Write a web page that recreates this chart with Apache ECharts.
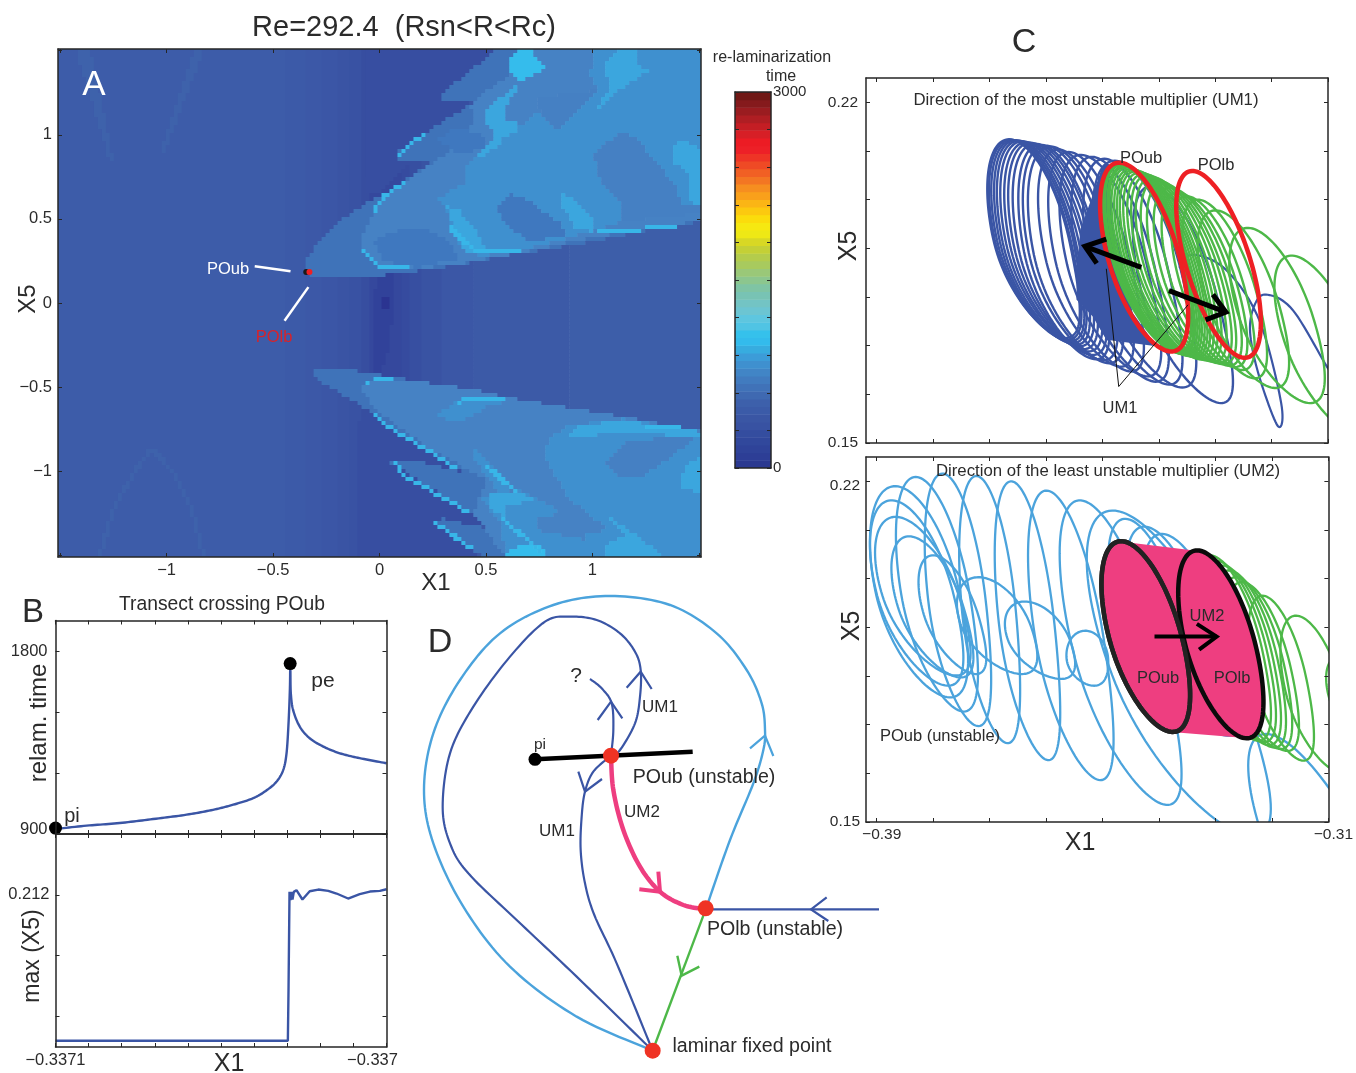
<!DOCTYPE html>
<html><head><meta charset="utf-8"><title>Re=292.4</title>
<style>html,body{margin:0;padding:0;background:#fff}#c{width:1356px;height:1073px}</style>
<script src="https://cdn.jsdelivr.net/npm/echarts@6/dist/echarts.min.js"></script></head>
<body><div id="c"></div>
<script>
// ---------- Panel A: re-laminarization time map (regions read in X1, X5) ----------
const bandEdges=[-1.52,-0.45,-0.35,-0.28,-0.2,-0.14,-0.09,-0.05,0.1,0.14,0.2,0.3,0.45,0.9,1.52];
const bandColors=['#3d5ca9','#3c5aa8','#3c58a7','#3b56a6','#3a54a4','#3952a3','#374ea0','#35489d','#364b9f','#374fa1','#3953a3','#3b57a6','#3c5aa7','#3d5ea9'];
const faintStreaks=[[[-1.43,1.52],[-1.36,1.52],[-1.25,0.856],[-1.27,0.856]],[[-0.87,1.52],[-0.82,1.52],[-1.01,0.89],[-1.03,0.89]]];
const faintArcs=[[[-1.32,-1.52],[-1.24,-1.2],[-1.15,-1.0],[-1.07,-0.87],[-0.97,-1.0],[-0.89,-1.2],[-0.82,-1.52]]];
const darkFlanks=[[[0,-0.6],[0.5,-1.1],[0.45,-1.52],[-0.1,-1.52],[-0.1,-0.7]],[[0,0.65],[0.43,1.2],[0.55,1.52],[-0.06,1.52],[-0.06,0.65]]];
const spine=[[[-0.01,0.17],[0.07,0.17],[0.06,-0.1],[0.03,-0.35],[-0.02,-0.45],[-0.02,-0.2],[-0.03,-0.05]]];
const spineCore=[[[0.01,0.03],[0.05,0.03],[0.045,-0.04],[0.015,-0.04]]];
const lobeBase=[
 [[-0.354,0.218],[-0.326,0.297],[-0.279,0.376],[-0.192,0.485],[-0.052,0.604],[0.003,0.634],[0.097,0.713],[0.23,0.822],[0.246,0.848],[0.074,0.842],[0.089,0.901],[0.128,0.941],[0.254,1.046],[0.441,1.188],[0.433,1.208],[0.293,1.212],[0.3,1.248],[0.41,1.366],[0.56,1.52],[1.52,1.52],[1.52,0.485],[1.192,0.416],[0.879,0.337],[0.567,0.277],[0.379,0.228],[0.066,0.168],[-0.294,0.154],[-0.344,0.178]],
 [[-0.31,-0.396],[-0.138,-0.396],[0.16,-0.459],[0.441,-0.515],[0.629,-0.568],[0.879,-0.618],[1.146,-0.677],[1.52,-0.76],[1.52,-1.52],[0.496,-1.52],[0.254,-1.301],[0.293,-1.281],[0.551,-1.35],[0.41,-1.232],[0.027,-0.931],[0.167,-0.939],[0.402,-1.01],[0.222,-0.875],[-0.028,-0.657],[-0.31,-0.44]]
];
const lobeMid=[
 [[-0.091,0.376],[-0.02,0.554],[0.097,0.703],[0.23,0.816],[0.394,0.95],[0.441,1.089],[0.426,1.178],[0.504,1.267],[0.629,1.366],[0.645,1.52],[1.52,1.52],[1.52,0.495],[1.192,0.426],[0.958,0.38],[0.66,0.297],[0.48,0.257],[0.379,0.234],[0.16,0.198],[0.003,0.218],[-0.075,0.297]],
 [[-0.083,-0.479],[0.16,-0.459],[0.441,-0.515],[0.629,-0.568],[0.879,-0.618],[1.146,-0.677],[1.52,-0.76],[1.52,-1.52],[0.598,-1.52],[0.441,-1.251],[0.504,-1.053],[0.222,-0.855],[0.003,-0.657],[-0.075,-0.539]]
];
const lobeSoft=[
 [[0.269,0.614],[0.394,0.713],[0.394,0.792],[0.473,0.891],[0.567,0.97],[0.754,1.139],[1.02,1.267],[0.989,1.347],[1.005,1.52],[1.52,1.52],[1.52,0.574],[1.13,0.485],[0.958,0.412],[0.66,0.313],[0.48,0.277],[0.379,0.337],[0.308,0.574]],
 [[0.77,-0.895],[0.801,-0.796],[0.895,-0.727],[1.146,-0.687],[1.52,-0.766],[1.52,-1.52],[0.973,-1.52],[0.973,-1.37],[1.075,-1.35],[0.879,-1.152]],
 [[0.269,-0.657],[0.379,-0.578],[0.629,-0.578],[0.504,-0.618],[0.394,-0.697],[0.316,-0.697]],
 [[0.473,-1.152],[0.66,-1.113],[0.864,-1.251],[0.746,-1.271],[0.746,-1.35],[0.973,-1.41],[0.973,-1.52],[0.598,-1.52],[0.567,-1.311]],
 [[0.433,-0.836],[0.629,-1.113],[0.567,-1.133],[0.433,-0.915]]
];
const lobeBlobs=[
 [[1.005,0.891],[1.13,1.01],[1.208,0.99],[1.286,0.851],[1.396,0.693],[1.412,0.594],[1.52,0.584],[1.52,0.535],[1.13,0.485],[1.13,0.594],[1.036,0.733]],
 [[0.731,1.218],[1.02,1.267],[0.833,1.03],[0.762,1.119]],
 [[1.067,-0.954],[1.169,-0.816],[1.49,-0.796],[1.412,-0.875],[1.224,-1.044],[1.13,-1.034]]
];
const lobeDeep=[
 [[0.551,0.574],[0.613,0.653],[0.692,0.614],[0.848,0.475],[0.879,0.396],[0.692,0.366],[0.582,0.485]],
 [[-0.028,0.376],[0.097,0.436],[0.207,0.446],[0.316,0.376],[0.379,0.267],[0.175,0.208],[0.019,0.248]],
 [[0.269,0.97],[0.363,1.05],[0.488,0.99],[0.488,0.911],[0.363,0.891]]
];
const lobeLight=[
 [[1.067,1.426],[1.13,1.52],[1.208,1.52],[1.208,1.416],[1.271,1.386],[1.177,1.307],[1.099,1.238],[1.028,1.149],[1.036,1.208],[1.083,1.267],[1.067,1.347]],
 [[1.388,0.95],[1.443,0.97],[1.52,0.891],[1.52,0.594],[1.466,0.594],[1.443,0.772],[1.388,0.832]],
 [[0.848,0.653],[0.895,0.634],[1.005,0.495],[1.005,0.426],[0.919,0.436],[0.895,0.515],[0.848,0.584]],
 [[0.504,1.149],[0.645,1.307],[0.66,1.297],[0.59,1.168],[0.59,1.079],[0.645,1.069],[0.653,1.03],[0.59,0.99],[0.551,0.931],[0.473,0.851],[0.465,0.891],[0.535,0.98],[0.527,1.04],[0.488,1.089]],
 [[0.316,0.574],[0.371,0.554],[0.441,0.455],[0.504,0.317],[0.41,0.297],[0.363,0.396]],
 [[0.887,-0.806],[0.926,-0.733],[1.146,-0.697],[1.52,-0.766],[1.52,-0.796],[1.192,-0.776],[0.989,-0.786]],
 [[1.412,-1.053],[1.451,-0.954],[1.52,-0.915],[1.52,-1.123],[1.427,-1.113]],
 [[1.052,-1.251],[1.192,-1.37],[1.349,-1.52],[1.067,-1.52],[1.067,-1.44],[1.146,-1.38]],
 [[0.512,-1.143],[0.66,-1.123],[0.746,-1.182],[0.598,-1.196],[0.582,-1.271],[0.512,-1.212]]
];
const lobeBright=[
 [[0.606,1.446],[0.66,1.52],[0.707,1.52],[0.754,1.426],[0.786,1.396],[0.707,1.347],[0.66,1.307],[0.613,1.366]],
 [[0.59,-1.52],[0.613,-1.454],[0.754,-1.44],[0.793,-1.52]]
];
const brightEdges=[
 [[0.092,0.871],[0.128,0.927],[0.207,1.0]],
 [[-0.025,0.545],[0.019,0.634],[0.12,0.723]],
 [[-0.086,0.313],[0.003,0.218],[0.16,0.202]],
 [[0.332,0.446],[0.441,0.313],[0.668,0.301]],
 [[1.036,0.426],[1.192,0.432],[1.412,0.465]],
 [[-0.067,-0.469],[0.066,-0.444]],
 [[0.371,-0.588],[0.441,-0.563],[0.59,-0.566]],
 [[-0.028,-0.648],[0.042,-0.737],[0.238,-0.885],[0.363,-0.984]],
 [[0.074,-0.945],[0.113,-1.024],[0.426,-1.251]],
 [[0.254,-1.301],[0.441,-1.465]],
 [[0.504,-0.964],[0.645,-1.133]],
 [[0.582,-1.291],[0.754,-1.469]],
 [[1.255,-0.727],[1.412,-0.747]]
];
const poLines=[[[-0.586,0.2185],[-0.418,0.189]],[[-0.334,0.0945],[-0.446,-0.106]]];
const poubPoint=[[-0.344,0.185]], polbPoint=[[-0.329,0.185]];
const axisATicks=[-1.5,-1,-0.5,0,0.5,1,1.5], axisALabels=[-1,-0.5,0,0.5,1];

// ---------- Colour bar ----------
const colorBarSteps=['#2b3990','#2d3e96','#2f4399','#31489c','#344d9f','#3852a2','#3a56a4','#3b5ba8','#3d60ab','#3f69b1','#4072b8','#417bbf','#4185c6','#3f90cf','#3c9cd8','#37acdf','#33bbec','#35c1ec','#50c4e4','#5ec6df','#6cc5d2','#73c4c4','#78c3b4','#7fc4a4','#8cc68e','#9ac878','#a8ca5e','#b4cc4c','#c4d036','#d8d824','#eee815','#f6e811','#fbdc0c','#fcc90f','#fbb515','#f9a01b','#f68e20','#f37623','#f16024','#ef4a25','#ee3426','#ed2027','#ec1c24','#d71f26','#c41e24','#af1e23','#9a1c20','#851a1c','#701815'];
const colorBarTicks=[0,300,600,900,1200,1500,1800,2100,2400,2700,3000];

// ---------- Panel B ----------
const transectTicks=[-0.3371,-0.33709,-0.33708,-0.33707,-0.33706,-0.33705,-0.33704,-0.33703,-0.33702,-0.33701,-0.337];
const relamRiseX=[-0.3371,-0.3370906,-0.3370806,-0.3370705,-0.3370604,-0.3370524,-0.3370463,-0.3370403,-0.3370363,-0.3370332,-0.3370312,-0.3370302,-0.3370296,-0.3370292,-0.3370291];
const relamRiseY=[924.5,941,954,973.5,995,1019,1044,1076,1114,1158,1215,1297,1444,1607,1706];
const relamFallX=[-0.3370291,-0.3370289,-0.3370282,-0.3370262,-0.3370232,-0.3370191,-0.3370141,-0.3370081,-0.337];
const relamFallY=[1706,1591,1509,1428,1371,1330,1297,1273,1248];
const relamMarks=[[-0.3371,929],[-0.3370291,1738]];
const maxX5X=[-0.3371,-0.3370298,-0.3370296,-0.3370293,-0.337029,-0.3370287,-0.3370284,-0.337028,-0.3370272,-0.3370254,-0.3370232,-0.3370206,-0.3370176,-0.3370151,-0.3370116,-0.3370081,-0.337005,-0.337002,-0.337];
const maxX5Y=[0.16404,0.16404,0.18083,0.21298,0.21026,0.21298,0.21047,0.21298,0.21353,0.21047,0.2132,0.21374,0.21331,0.21244,0.2108,0.21222,0.21309,0.21331,0.21385];
const relamTicks=[900,1200,1500,1800], maxX5Ticks=[0.172,0.192,0.212,0.232];

// ---------- Panel C: orbits as [X1 min, X1 max, X5 top, X5 bottom, lean of the top point] ----------
const ticksCX=[-0.39,-0.38,-0.37,-0.36,-0.35,-0.34,-0.33,-0.32,-0.31];
const ticksCY=[0.15,0.16,0.17,0.18,0.19,0.2,0.21,0.22];
const blueOrbits=[
 [-.3704,-.3549,.2124,.1716,-.5],[-.3701,-.3546,.2123,.1712,-.5],[-.3697,-.3541,.2122,.1709,-.5],[-.3692,-.3537,.2122,.1705,-.5],
 [-.3687,-.3531,.2121,.1702,-.5],[-.3681,-.3524,.212,.1699,-.5],[-.3674,-.3517,.2118,.1693,-.5],[-.3667,-.3509,.2117,.1688,-.5],
 [-.3659,-.3501,.2115,.1681,-.5],[-.3649,-.3496,.2113,.1672,-.5],[-.3641,-.3482,.2111,.167,-.5],[-.3632,-.3472,.2109,.1664,-.5],
 [-.3614,-.3455,.2103,.1657,-.55],[-.3596,-.3437,.2098,.1647,-.55],[-.3576,-.3407,.2092,.1637,-.55],[-.3555,-.3393,.2088,.1626,-.55],
 [-.3534,-.3369,.2084,.162,-.55],[-.3517,-.3345,.208,.1614,-.55],[-.3446,-.3281,.2028,.1582,-.6]
];
const blueSpiral=[[-.3364,.186],[-.334,.1887],[-.3281,.1856],[-.3222,.1753],[-.3183,.1582],[-.3189,.1535],[-.3222,.1637],[-.3238,.1726],[-.3231,.1781],[-.321,.1805],[-.3163,.1774],[-.3102,.1657],[-.3086,.163]];
const blueSolid=[[[-.3545,.1856],[-.3539,.1939],[-.352,.2],[-.3499,.2072],[-.349,.2072],[-.3475,.1877],[-.3446,.1767],[-.3404,.1699],[-.3493,.1712],[-.3517,.176],[-.3546,.1795]]];
const greenOrbits=[
 [-.35,-.3348,.2074,.1686,-.62],[-.3498,-.3344,.2072,.1685,-.62],[-.3495,-.3341,.2071,.1683,-.62],[-.3491,-.3337,.2069,.1682,-.62],
 [-.3488,-.3333,.2068,.1681,-.62],[-.3484,-.3329,.2066,.1679,-.62],[-.3479,-.3324,.2063,.1678,-.62],[-.3474,-.3319,.2061,.1677,-.62],
 [-.3469,-.3314,.2059,.1675,-.62],[-.3463,-.3308,.2056,.1672,-.62],[-.3456,-.3301,.2053,.1671,-.62],[-.3449,-.3294,.205,.1669,-.62],
 [-.3441,-.3285,.2046,.1667,-.62],[-.3432,-.3276,.204,.1664,-.62],[-.3421,-.3268,.2033,.1662,-.62],[-.3409,-.3258,.2025,.1659,-.62],
 [-.3395,-.3248,.2015,.1656,-.62],[-.3378,-.3235,.2007,.165,-.62],[-.3358,-.3213,.2,.1633,-.62],[-.3331,-.3174,.1978,.1613,-.6],
 [-.3275,-.3111,.1942,.1582,-.6],[-.3195,-.3021,.1885,.151,-.65]
];
const poubTop=[[-.3504,-.335,.2076,.1688,-.56]], polbTop=[[-.3369,-.3219,.2059,.1675,-.62]];
const um1Arrows=[[[-.3431,.1861],[-.3531,.1904]],[[-.3493,.1919],[-.3531,.1904],[-.351,.1869]],[[-.3382,.1813],[-.3281,.1769]],[[-.3304,.1805],[-.3281,.1769],[-.3317,.1753]]];
const um1Leaders=[[[-.3493,.1858],[-.3471,.1616],[-.3348,.1784]]];

const cyanOrbits=[
 [-.3912,-.3744,.219,.1756,-.47],[-.3912,-.3753,.2161,.178,-.52],[-.3903,-.3741,.2127,.1801,-.55],[-.3874,-.3735,.2087,.1797,-.55],
 [-.3826,-.3711,.2048,.1804,-.55],[-.3758,-.362,.2003,.1804,-.45],[-.3673,-.3552,.1953,.1794,-.42],[-.3564,-.349,.1893,.178,-.1],
 [-.3866,-.3726,.2209,.1727,-.5],[-.3815,-.3701,.2216,.1697,-.45],[-.3754,-.3649,.2211,.1662,-.42],[-.3691,-.3579,.22,.1627,-.48],
 [-.3632,-.3487,.2181,.1586,-.55],[-.3576,-.3372,.2161,.1535,-.65],[-.3528,-.3222,.214,.1471,-.7],
 [-.349,-.3339,.2123,.1705,-.6],[-.3458,-.3298,.2107,.1691,-.6],[-.3428,-.3263,.2092,.1677,-.6]
];
const cyanLast=[[-.3242,-.2956,.1681,.1087,-.78]];
const greenOrbitsLow=[
 [-.334,-.3207,.2048,.1667,-.55],[-.3328,-.3198,.2037,.1664,-.55],[-.3316,-.3189,.2027,.1658,-.55],[-.3304,-.318,.2017,.1653,-.55],
 [-.3292,-.3169,.2003,.165,-.55],[-.3281,-.3157,.1993,.1646,-.55],[-.3242,-.313,.1965,.1626,-.55],[-.3185,-.3062,.1924,.1602,-.55],[-.3104,-.2986,.1842,.1636,-.55]
];
const pinkBand=[[[-.3472,.2077],[-.3338,.2058],[-.3242,.1672],[-.3378,.1685]]];
const poubLow=[[-.3502,-.3347,.2077,.1685,-.55]], polbLow=[[-.3366,-.3217,.2058,.1672,-.55]];
const um2Arrow=[[[-.3408,.1881],[-.3298,.1881]],[[-.3333,.1907],[-.3298,.1881],[-.3329,.1854]]];

// ---------- Panel D: schematic in its own 0–1440 / 0–1449 units ----------
const outerOrbit=[[728,1382],[500,1280],[300,1130],[160,950],[70,760],[42,600],[70,430],[150,270],[270,130],[430,45],[600,18],[780,45],[920,130],[1010,240],[1055,340],[1065,420],[1060,480],[1030,580],[960,750],[890,950]];
const innerOrbit=[[728,1382],[500,1160],[320,990],[175,850],[120,760],[98,650],[120,490],[190,350],[300,200],[405,95],[480,80],[560,90],[630,130],[675,185],[692,240],[690,320],[675,400],[630,480],[603,497]];
const um1Down=[[603,497],[550,545],[525,605],[515,680],[512,780],[525,880],[553,975],[620,1120],[728,1382]];
const um1Up=[[603,497],[610,420],[605,340],[575,295],[540,267]];
const um2Path=[[603,497],[610,600],[640,720],[690,830],[750,905],[820,945],[887,958]];
const greenPath=[[887,958],[728,1382]];
const incoming=[[1407,958],[887,958]];
const transect=[[375,508],[848,485]];
const headsDark=[[[1250,922],[1203,958],[1255,993]],[[650,293],[692,245],[725,297]],[[563,390],[603,335],[637,385]],[[505,545],[525,605],[576,567]]];
const headsCyan=[[[1020,475],[1065,437],[1090,498]]];
const headsGreen=[[[802,1097],[815,1157],[868,1130]]];
const headsPink=[[[688,898],[750,905],[745,845]]];
const fixedPoints=[[603,497],[887,955],[728,1382]];
const piPoint=[[375,508]];

// ---------- Helpers ----------
const FONT='"Liberation Sans",Arial,sans-serif', INK='#2b2b2b', LINE='#262626';
const C={blue:'#3a55a5',green:'#4db848',red:'#ee2024',cyan:'#4ba3dc',pink:'#ee3e80'};
const grids=[],xAxes=[],yAxes=[],series=[];
const lineStyle={color:LINE,width:1.5};
function axis(g,o,side,ticks,labels,fmt,size,margin){
  const r=p=>({padding:p,fontSize:size,fontFamily:FONT,color:INK});
  return {type:'value',gridIndex:g,min:o[0],max:o[1],position:side,z:10,
    splitLine:{show:false},axisLine:{show:true,onZero:false,lineStyle},
    axisTick:{show:true,inside:true,length:4,customValues:ticks,lineStyle:{color:LINE,width:1}},
    axisLabel:labels?{show:true,customValues:labels,formatter:fmt,fontSize:size,fontFamily:FONT,color:INK,margin:margin,
      rich:{shiftL:r([0,28,0,0]),shiftU:r([0,0,10,0]),shiftR:r([0,0,0,10]),shiftD:r([8,0,0,0])}}:{show:false}};
}
function frame(box,xr,yr,xt,yt,xl,yl,xf,yf,size,mx,my){
  const g=grids.length; grids.push(Object.assign({show:false},box));
  xAxes.push(axis(g,xr,'bottom',xt,xl,xf,size,mx)); xAxes.push(axis(g,xr,'top',xt));
  yAxes.push(axis(g,yr,'left',yt,yl,yf,size,my)); yAxes.push(axis(g,yr,'right',yt));
  return {xAxisIndex:xAxes.length-2,yAxisIndex:yAxes.length-2};
}
function base(ax,z){return Object.assign({type:'custom',coordinateSystem:'cartesian2d',clip:true,silent:true,animation:false,z:z||2},ax);}
function polys(ax,list,fill){
  series.push(Object.assign(base(ax),{data:list.map((p,i)=>[i]),renderItem:(p,api)=>({type:'polygon',
    shape:{points:list[p.dataIndex].map(q=>api.coord(q))},style:{fill:fill}})}));
}
function lines(ax,list,stroke,width,z){
  series.push(Object.assign(base(ax,z),{data:list.map((p,i)=>[i]),renderItem:(p,api)=>({type:'polyline',
    shape:{points:list[p.dataIndex].map(q=>api.coord(q))},style:{fill:'none',stroke:stroke,lineWidth:width,lineCap:'butt',lineJoin:'miter'}})}));
}
function orbits(ax,rows,stroke,width,fill,tip){
  const k=tip||0;
  series.push(Object.assign(base(ax),{data:rows,renderItem:(p,api)=>{
    const r=rows[p.dataIndex],cx=(r[0]+r[1])/2,cy=(r[2]+r[3])/2,w=(r[1]-r[0])/2,h=(r[2]-r[3])/2,phi=Math.acos(r[4]),pts=[];
    for(let n=0;n<120;n++){const t=n/120*2*Math.PI,v=Math.cos(t-phi);
      pts.push(api.coord([cx+w*(Math.cos(t)+(v<0?k*v*v:0)),cy+h*v]));}
    return {type:'polygon',shape:{points:pts},style:{fill:fill||'none',stroke:stroke||'none',lineWidth:width||0}};
  }}));
}
function curve(ax,data,color,width,z){           // smooth stroke through the read points, placed with the axis scales
  series.push(Object.assign(base(ax,z||3),{data:data,renderItem:(p,api)=>{
    if(p.dataIndex!==0) return null;
    const P=data.map(q=>api.coord(q)),pts=[];
    for(let i=0;i<P.length-1;i++){
      const a=P[Math.max(i-1,0)],b=P[i],c=P[i+1],d=P[Math.min(i+2,P.length-1)];
      for(let s=0;s<12;s++){const t=s/12,t2=t*t,t3=t2*t;
        pts.push([0,1].map(j=>0.5*(2*b[j]+(c[j]-a[j])*t+(2*a[j]-5*b[j]+4*c[j]-d[j])*t2+(3*b[j]-a[j]-3*c[j]+d[j])*t3)));}
    }
    pts.push(P[P.length-1]);
    return {type:'polyline',shape:{points:pts},style:{fill:'none',stroke:color,lineWidth:width}};
  }}));
}
function path(ax,data,color,width,z){
  series.push(Object.assign({type:'line',data:data,showSymbol:false,silent:true,animation:false,z:z||3,lineStyle:{color:color,width:width}},ax));
}
function dots(ax,data,color,size,z){
  series.push(Object.assign({type:'scatter',data:data,symbolSize:size,silent:true,animation:false,clip:false,z:z||6,itemStyle:{color:color,opacity:1}},ax));
}

// Panel A: the read regions are sampled on the map's own cell grid, so edges step as in the original
const mapRange=[-1.51,1.51], mapCellsX=161, mapCellsY=127;
function inside(poly,x,y){let c=false;for(let i=0,j=poly.length-1;i<poly.length;j=i++){const a=poly[i],b=poly[j];
  if((a[1]>y)!==(b[1]>y)&&x<(b[0]-a[0])*(y-a[1])/(b[1]-a[1])+a[0])c=!c;}return c;}
function near(line,x,y,r){for(let i=0;i<line.length-1;i++){const ax=line[i][0]*213,ay=line[i][1]*168,bx=line[i+1][0]*213,by=line[i+1][1]*168,
  px=x*213,py=y*168,dx=bx-ax,dy=by-ay,t=Math.max(0,Math.min(1,((px-ax)*dx+(py-ay)*dy)/(dx*dx+dy*dy)));
  if(Math.hypot(px-ax-t*dx,py-ay-t*dy)<r)return true;}return false;}
const mapLayers=[[faintStreaks,'#3e62ab'],[darkFlanks,'#374ea1'],[spine,'#31429a'],[spineCore,'#2b3491'],[lobeBase,'#3f73b9'],[lobeMid,'#4682c4'],
  [lobeSoft,'#3f90cf'],[lobeBlobs,'#4580c3'],[lobeDeep,'#3f78bf'],[lobeLight,'#3ba6de'],[lobeBright,'#35bcec']];
const mapRuns=[];
(function(){
  const w=(mapRange[1]-mapRange[0])/mapCellsX,h=(mapRange[1]-mapRange[0])/mapCellsY;
  for(let r=0;r<mapCellsY;r++){
    const y=mapRange[1]-(r+.5)*h;let cur=null,start=0;
    for(let c=0;c<=mapCellsX;c++){
      let col=null;
      if(c<mapCellsX){
        const x=mapRange[0]+(c+.5)*w;
        let b=0;while(b<bandColors.length-1&&x>bandEdges[b+1])b++;col=bandColors[b];
        mapLayers.forEach((L,i)=>{if(L[0].some(p=>inside(p,x,y)))col=L[1];
          if(i===0&&near(faintArcs[0],x,y,2))col='#3e62ab';});
        if(brightEdges.some(l=>near(l,x,y,1.7)))col='#38b6e8';
      }
      if(col!==cur){
        if(cur)mapRuns.push([mapRange[0]+start*w,mapRange[0]+c*w,y+h/2,y-h/2,cur]);
        cur=col;start=c;
      }
    }
  }
})();
const minus=v=>String(v).replace('-','−');
const A=frame({left:58,top:49,width:643,height:508},mapRange,mapRange,axisATicks,axisATicks,axisALabels,axisALabels,minus,minus,16.5,5,6);
series.push(Object.assign(base(A),{data:mapRuns.map(r=>r.slice(0,4)),renderItem:(p,api)=>{
  const r=mapRuns[p.dataIndex],a=api.coord([r[0],r[2]]),b=api.coord([r[1],r[3]]);
  return {type:'rect',shape:{x:a[0],y:a[1],width:b[0]-a[0]+0.6,height:b[1]-a[1]+0.6},style:{fill:r[4]}};}}));
lines(A,poLines,'#ffffff',2.5); dots(A,poubPoint,'#1a1a1a',6); dots(A,polbPoint,'#ee2024',6);

// Colour bar
const CB=frame({left:735,top:92,width:36,height:376},[0,1],[0,3000],[],colorBarTicks,null,[0,3000],null,v=>String(v),15,0,0);
yAxes[CB.yAxisIndex].position='right'; yAxes[CB.yAxisIndex+1].position='left';
yAxes[CB.yAxisIndex].axisLabel.margin=2;
xAxes[CB.xAxisIndex].axisTick.show=false; xAxes[CB.xAxisIndex+1].axisTick.show=false;
series.push(Object.assign(base(CB),{data:colorBarSteps.map((c,i)=>[i]),renderItem:(p,api)=>{
  const n=colorBarSteps.length,i=p.dataIndex,a=api.coord([0,3000*(i+1)/n]),b=api.coord([1,3000*i/n]);
  return {type:'rect',shape:{x:a[0],y:a[1],width:b[0]-a[0],height:b[1]-a[1]+0.5},style:{fill:colorBarSteps[i]}};}}));

// Panel B
const xB=[-0.3371,-0.337];
const B1=frame({left:55.5,top:620.5,width:331,height:213.5},xB,[900,1950],transectTicks,relamTicks,null,[900,1800],null,
  v=>v===900?'{shiftU|900}':String(v),16.5,0,8);
const B2=frame({left:55.5,top:834,width:331,height:213},xB,[0.162,0.232],transectTicks,maxX5Ticks,[-0.3371,-0.337],[0.212],
  v=>v<-0.33705?'−0.3371':'{shiftL|−0.337}',v=>'0.212',16.5,5,6);
curve(B1,relamRiseX.map((x,i)=>[x,relamRiseY[i]]),C.blue,2.4);
curve(B1,relamFallX.map((x,i)=>[x,relamFallY[i]]),C.blue,2.4);
path(B1,[[relamRiseX[14],relamMarks[1][1]],[relamRiseX[14],relamRiseY[14]]],C.blue,2.4);
dots(B1,relamMarks,'#000',13);
path(B2,maxX5X.map((x,i)=>[x,maxX5Y[i]]),C.blue,2.4);

// Panel C
const cY=v=>v.toFixed(2);
const xC=[-0.3919,-0.31], yC=[0.15,0.225];
const C1=frame({left:866,top:78,width:462,height:365},xC,yC,ticksCX,ticksCY,null,[0.15,0.22],null,cY,15.5,0,8);
const C2=frame({left:866,top:457,width:463,height:365},xC,yC,ticksCX,ticksCY,[-0.39,-0.31],[0.15,0.22],
  v=>'{shiftR|'+v.toFixed(2).replace('-','−')+'}',v=>v>0.2?'{shiftD|0.22}':'0.15',15.5,5,6);
orbits(C1,blueOrbits,C.blue,2.4,null,0.3); curve(C1,blueSpiral,C.blue,2.2,2); polys(C1,blueSolid,C.blue);
orbits(C1,greenOrbits,C.green,2.4,null,0.15);
orbits(C1,poubTop,C.red,4.5,null,0.08); orbits(C1,polbTop,C.red,4.5);
lines(C1,um1Leaders,'#111',1); lines(C1,um1Arrows,'#000',5);
orbits(C2,cyanOrbits,C.cyan,2.3,null,0.22); orbits(C2,cyanLast,C.cyan,2.3); orbits(C2,greenOrbitsLow,C.green,2.3,null,0.2);
polys(C2,pinkBand,C.pink); orbits(C2,poubLow,'#222',4.5,C.pink,0.08); orbits(C2,polbLow,'#0b0b0b',4.5,C.pink,0.08);
orbits(C2,poubLow,'#222',4.5,null,0.08); lines(C2,um2Arrow,'#000',4);

// Panel D
const gD=grids.length; grids.push({show:false,left:410,top:590,width:480,height:483});
xAxes.push({type:'value',gridIndex:gD,min:0,max:1440,show:false});
yAxes.push({type:'value',gridIndex:gD,min:0,max:1449,inverse:true,show:false});
const D={xAxisIndex:xAxes.length-1,yAxisIndex:yAxes.length-1};
curve(D,outerOrbit,C.cyan,2.4); curve(D,innerOrbit,C.blue,2.2); curve(D,um1Down,C.blue,2.2); curve(D,um1Up,C.blue,2.2);
curve(D,um2Path,C.pink,4.5); path(D,greenPath,C.green,2.4); path(D,incoming,C.blue,2.4);
path(D,transect,'#000',4.5);
lines(D,headsDark,C.blue,2.2,4); lines(D,headsCyan,C.cyan,2.2,4); lines(D,headsGreen,C.green,2.4,4); lines(D,headsPink,C.pink,4,4);
dots(D,fixedPoints,'#ef3324',16,7); dots(D,piPoint,'#000',13,7);

// Text
const texts=[
 ['Re=292.4  (Rsn<R<Rc)',404,26,29,INK],['A',94,83,35,'#fff'],['POub',228,267,16.5,'#fff'],['POlb',274,335,16.5,'#d8232a'],
 ['X1',436,581,24,INK],['X5',26,299,24,INK,1],
 ['re-laminarization',772,56,16,INK],['time',781,75,16,INK],
 ['B',33,611,33,INK],['Transect crossing POub',222,603,19.3,INK],['relam. time',37,723,24,INK,1],['pi',72,814,20,INK],['pe',323,679,21,INK],
 ['max (X5)',31,956,23,INK,1],['X1',229,1062,25,INK],
 ['C',1024,41,34,INK],['Direction of the most unstable multiplier (UM1)',1086,98,16.8,INK],['POub',1141,156,16.5,INK],['POlb',1216,163,16.5,INK],['UM1',1120,406,16.5,INK],
 ['X5',847,246,25,INK,1],
 ['Direction of the least unstable multiplier (UM2)',1108,469,16.8,INK],['UM2',1207,614,16.5,INK],['POub',1158,676,16.5,INK],['POlb',1232,676,16.5,INK],['POub (unstable)',940,734,16.5,INK],
 ['X5',850,626,25,INK,1],['X1',1080,841,25,INK],
 ['D',440,641,34,INK],['?',576,674,21,INK],['UM1',660,705,17,INK],['pi',540,743,15.5,INK],['POub (unstable)',704,776,19.6,INK],['UM2',642,810,17,INK],['UM1',557,829,17,INK],['POlb (unstable)',775,928,19.6,INK],['laminar fixed point',752,1045,19.6,INK]
];
const graphic=texts.map(t=>({type:'text',x:t[1]+(t[5]?2:0),y:t[2]+(t[5]?0:2),rotation:t[5]?Math.PI/2:0,z:50,silent:true,
  style:{text:t[0],x:0,y:0,fill:t[4],font:t[3]+'px '+FONT,textAlign:'center',textVerticalAlign:'middle'}}));

const chart=echarts.init(document.getElementById('c'),null,{renderer:'canvas'});
chart.setOption({animation:false,backgroundColor:'#fff',tooltip:{show:false},legend:{show:false},grid:grids,xAxis:xAxes,yAxis:yAxes,series:series,graphic:{elements:graphic}});
</script></body></html>
